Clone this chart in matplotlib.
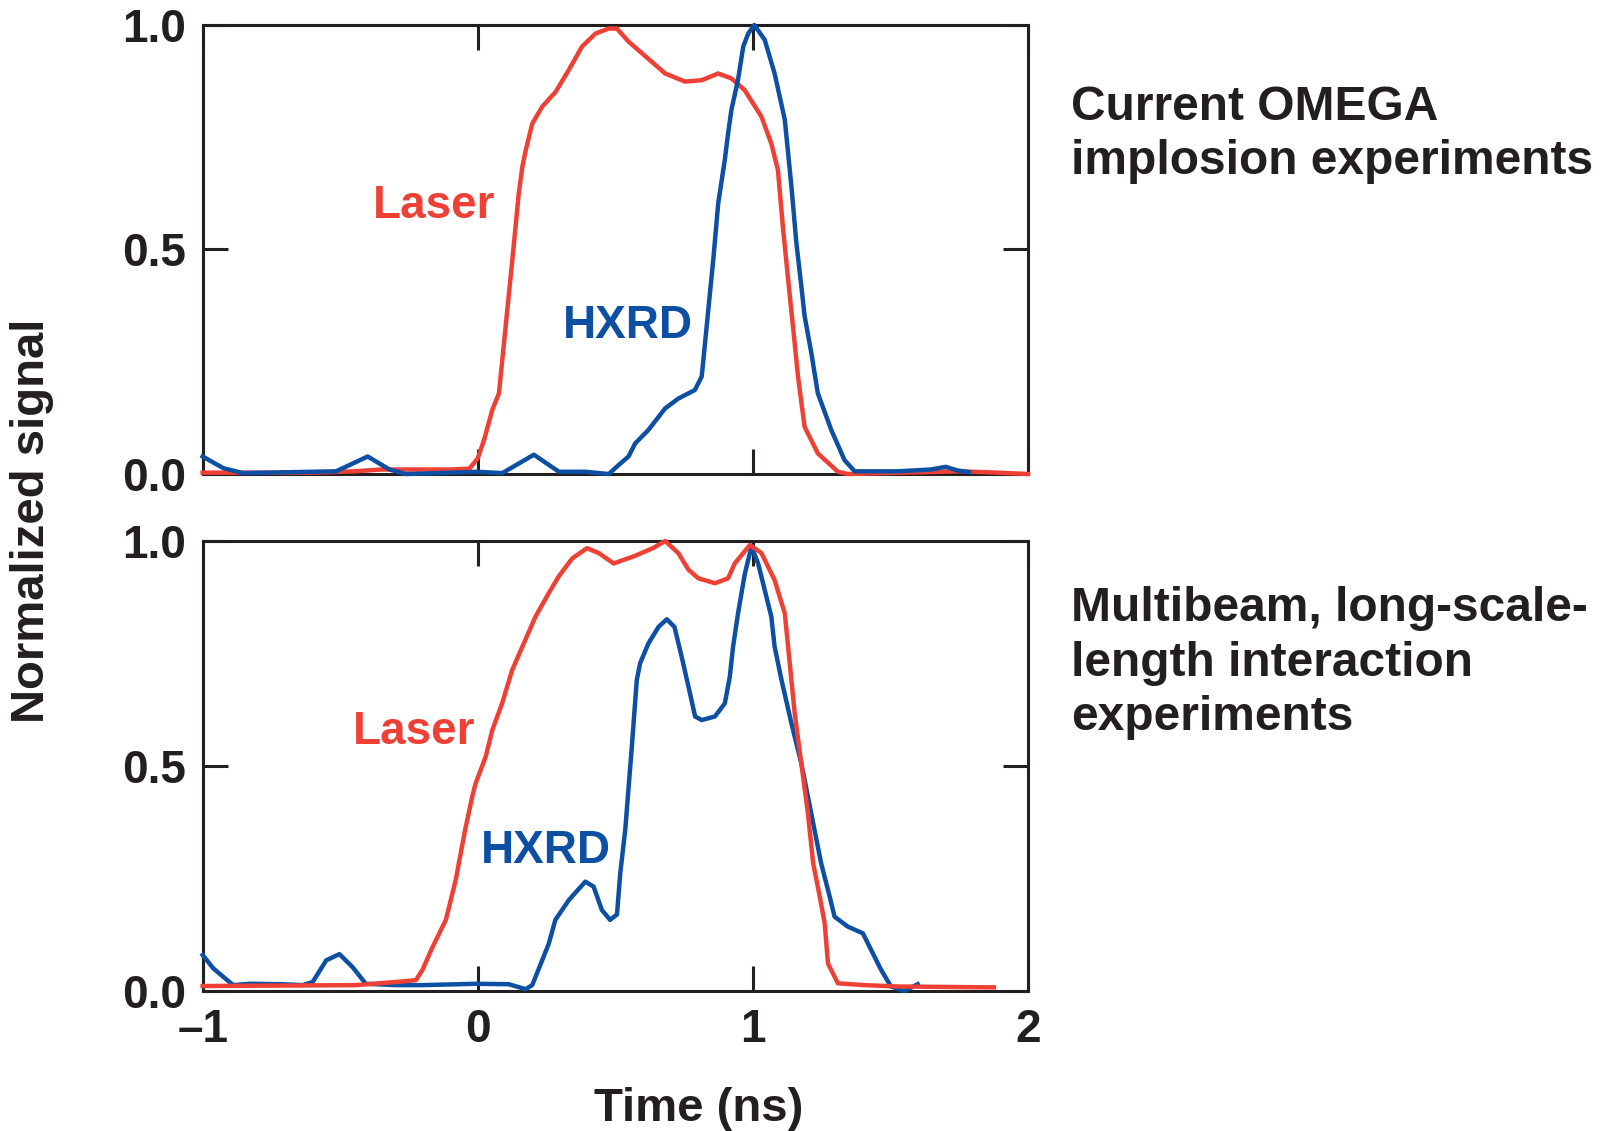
import numpy as np
import matplotlib
matplotlib.use('Agg')
import matplotlib.pyplot as plt

# colours
RED  = '#EE4035'
BLUE = '#0D4FA3'
INK  = '#231F20'

# ---- top panel: current OMEGA implosion experiments
top_laser_t = [-1.0, -0.60, -0.45, -0.35, -0.10, -0.03, 0.0, 0.023, 0.053, 0.077, 0.095, 0.113,
               0.131, 0.149, 0.162, 0.174, 0.198, 0.234, 0.283, 0.331, 0.379, 0.428, 0.476,
               0.506, 0.548, 0.597, 0.681, 0.753, 0.814, 0.874, 0.922, 0.970, 1.031, 1.067,
               1.091, 1.109, 1.127, 1.152, 1.164, 1.188, 1.236, 1.309, 1.345, 1.55, 1.75, 1.85, 2.0]
top_laser_v = [0.003, 0.003, 0.006, 0.010, 0.010, 0.012, 0.035, 0.076, 0.143, 0.18, 0.29, 0.40,
               0.51, 0.625, 0.684, 0.72, 0.78, 0.818, 0.851, 0.90, 0.952, 0.981, 0.992,
               0.992, 0.963, 0.937, 0.892, 0.874, 0.877, 0.892, 0.881, 0.855, 0.796, 0.736,
               0.677, 0.551, 0.44, 0.291, 0.217, 0.105, 0.046, 0.005, 0.0, 0.003, 0.006, 0.004, 0.0]

top_hxrd_t = [-1.0, -0.925, -0.853, -0.515, -0.40, -0.321, -0.261, -0.1, 0.0, 0.089, 0.204, 0.295,
              0.391, 0.476, 0.512, 0.548, 0.572, 0.62, 0.681, 0.729, 0.789, 0.814, 0.826, 0.838,
              0.856, 0.874, 0.898, 0.910, 0.922, 0.946, 0.965, 0.983, 1.005, 1.043, 1.079,
              1.116, 1.128, 1.140, 1.158, 1.176, 1.188, 1.212, 1.236, 1.285, 1.333, 1.370,
              1.526, 1.647, 1.701, 1.743, 1.786]
top_hxrd_v = [0.039, 0.013, 0.002, 0.006, 0.039, 0.010, 0.0, 0.003, 0.005, 0.002, 0.043, 0.005,
              0.005, 0.0, 0.02, 0.039, 0.068, 0.098, 0.146, 0.168, 0.187, 0.217, 0.291, 0.366,
              0.477, 0.603, 0.70, 0.759, 0.811, 0.878, 0.952, 0.981, 1.0, 0.967, 0.892,
              0.789, 0.715, 0.641, 0.515, 0.419, 0.352, 0.271, 0.18, 0.098, 0.031, 0.006,
              0.006, 0.010, 0.016, 0.008, 0.004]

# ---- bottom panel: multibeam long-scale-length interaction experiments
bot_laser_t = [-1.0, -0.443, -0.297, -0.225, -0.201, -0.164, -0.116, -0.080, -0.046, -0.020, -0.008,
               0.029, 0.053, 0.089, 0.125, 0.162, 0.210, 0.258, 0.294, 0.343, 0.397, 0.440,
               0.494, 0.572, 0.640, 0.681, 0.729, 0.766, 0.802, 0.862, 0.910, 0.934, 0.989,
               1.031, 1.079, 1.116, 1.134, 1.152, 1.176, 1.200, 1.219, 1.243, 1.261, 1.273,
               1.309, 1.406, 1.526, 1.876]
bot_laser_v = [0.011, 0.013, 0.020, 0.024, 0.047, 0.098, 0.158, 0.247, 0.358, 0.432, 0.461,
               0.521, 0.58, 0.64, 0.713, 0.765, 0.832, 0.884, 0.921, 0.961, 0.984, 0.973,
               0.950, 0.967, 0.985, 1.0, 0.973, 0.936, 0.917, 0.906, 0.917, 0.950, 0.991,
               0.973, 0.913, 0.839, 0.728, 0.617, 0.506, 0.395, 0.284, 0.21, 0.150, 0.061,
               0.017, 0.013, 0.010, 0.008]

bot_hxrd_t = [-1.0, -0.961, -0.889, -0.829, -0.708, -0.636, -0.60, -0.551, -0.503, -0.455, -0.407,
              -0.297, -0.201, -0.008, 0.113, 0.174, 0.198, 0.234, 0.258, 0.282, 0.331, 0.391,
              0.421, 0.451, 0.481, 0.506, 0.518, 0.536, 0.560, 0.578, 0.590, 0.620, 0.657,
              0.687, 0.715, 0.741, 0.766, 0.790, 0.814, 0.862, 0.898, 0.916, 0.928, 0.946,
              0.971, 0.995, 1.019, 1.043, 1.067, 1.079, 1.104, 1.140, 1.176, 1.212, 1.248,
              1.279, 1.297, 1.345, 1.400, 1.430, 1.466, 1.502, 1.551, 1.599]
bot_hxrd_v = [0.080, 0.050, 0.013, 0.016, 0.015, 0.013, 0.02, 0.068, 0.082, 0.053, 0.016,
              0.013, 0.013, 0.016, 0.015, 0.004, 0.013, 0.068, 0.105, 0.158, 0.202, 0.243,
              0.232, 0.18, 0.158, 0.17, 0.262, 0.358, 0.543, 0.691, 0.728, 0.772, 0.809,
              0.826, 0.809, 0.743, 0.676, 0.61, 0.602, 0.61, 0.639, 0.698, 0.765, 0.839,
              0.928, 0.987, 0.950, 0.891, 0.832, 0.765, 0.691, 0.595, 0.506, 0.395, 0.284,
              0.21, 0.165, 0.143, 0.128, 0.091, 0.047, 0.010, 0.0, 0.015]

x_ticks = [-1, 0, 1, 2]
x_tick_labels = ['\u20131', '0', '1', '2']
y_ticks = [0.0, 0.5, 1.0]
y_tick_labels = ['0.0', '0.5', '1.0']

captions = ['Current OMEGA\nimplosion experiments',
            'Multibeam, long-scale-\nlength interaction\nexperiments']

NARROW = ['Liberation Sans Narrow', 'Liberation Sans', 'DejaVu Sans']
plt.rcParams['font.family'] = ['Liberation Sans', 'DejaVu Sans']
plt.rcParams['font.weight'] = 'bold'

fig = plt.figure(figsize=(16.02, 11.31), dpi=100)
ax_top = fig.add_axes([0.1265, 0.5809, 0.5152, 0.3970])
ax_bot = fig.add_axes([0.1265, 0.1238, 0.5152, 0.3979])


def style_axis(ax, show_x):
    ax.set_xlim(-1, 2)
    ax.set_ylim(0, 1)
    for sp in ax.spines.values():
        sp.set_linewidth(2.2)
        sp.set_color(INK)
    ax.tick_params(direction='in', length=18, width=2.2, color=INK,
                   top=True, right=True, labelsize=33, pad=12)
    ax.set_xticks(x_ticks)
    ax.set_yticks(y_ticks)
    ax.set_yticklabels(y_tick_labels, family=NARROW, weight='bold', color=INK)
    if show_x:
        ax.set_xticklabels(x_tick_labels, family=NARROW, weight='bold', color=INK)
    else:
        ax.set_xticklabels([])


for ax in (ax_top, ax_bot):
    style_axis(ax, ax is ax_bot)

LW = 3.2
ax_top.plot(top_laser_t, top_laser_v, color=RED, lw=LW, clip_on=False, solid_joinstyle='round', zorder=3)
ax_top.plot(top_hxrd_t, top_hxrd_v, color=BLUE, lw=LW, clip_on=False, solid_joinstyle='round', zorder=4)
ax_bot.plot(bot_hxrd_t, bot_hxrd_v, color=BLUE, lw=LW, clip_on=False, solid_joinstyle='round', zorder=3)
ax_bot.plot(bot_laser_t, bot_laser_v, color=RED, lw=LW, clip_on=False, solid_joinstyle='round', zorder=4)

# curve labels
ax_top.text(-0.157, 0.57, 'Laser', color=RED, fontsize=33, weight='bold', ha='center', va='baseline')
ax_top.text(0.546, 0.303, 'HXRD', color=BLUE, fontsize=33, weight='bold', ha='center', va='baseline')
ax_bot.text(-0.232, 0.549, 'Laser', color=RED, fontsize=33, weight='bold', ha='center', va='baseline')
ax_bot.text(0.247, 0.284, 'HXRD', color=BLUE, fontsize=33, weight='bold', ha='center', va='baseline')

# panel captions on the right (baseline of the last line)
fig.text(1071 / 1602, 1 - 174 / 1131, captions[0], fontsize=34.5, weight='bold', color=INK,
         ha='left', va='baseline', linespacing=1.27)
fig.text(1071 / 1602, 1 - 730 / 1131, captions[1], fontsize=34.5, weight='bold', color=INK,
         ha='left', va='baseline', linespacing=1.27)

fig.text(32 / 1602, 1 - 521 / 1131, 'Normalized signal', fontsize=34, weight='bold', color=INK,
         rotation=90, ha='center', va='center')
fig.text(699 / 1602, 1 - 1121 / 1131, 'Time (ns)', fontsize=34, weight='bold', color=INK,
         family=NARROW, ha='center', va='baseline')

fig.savefig('out.png', dpi=100)
